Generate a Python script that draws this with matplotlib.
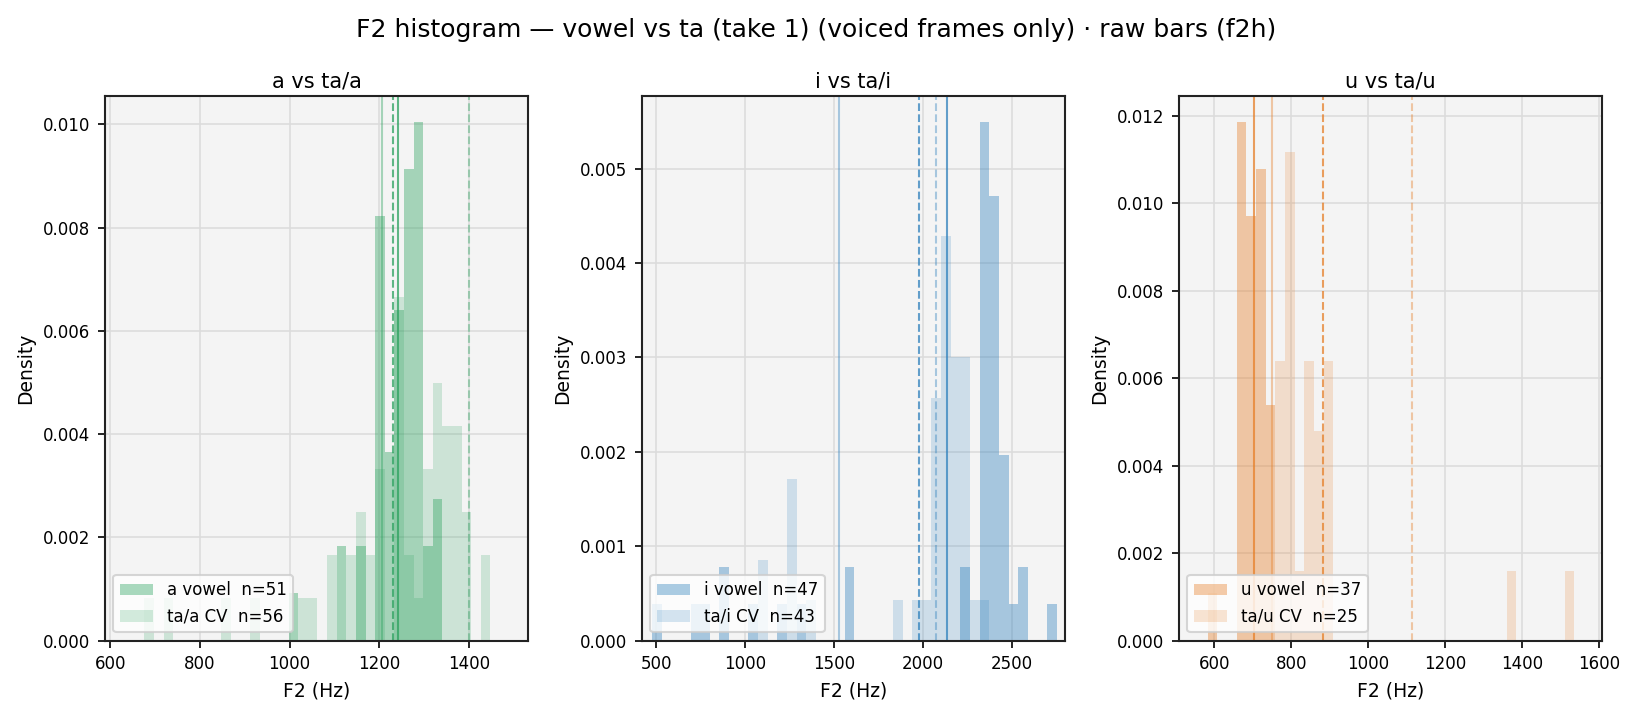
import numpy as np
import matplotlib
matplotlib.use("Agg")
import matplotlib.pyplot as plt

# BIN LAYOUT (first left edge, bin width) in Hz
a_bin_start, a_bin_width = 676.0, 21.46
i_bin_start, i_bin_width = 476.7, 54.19
u_bin_start, u_bin_width = 582.7, 25.06

# FRAME COUNTS PER BIN
a_vowel_counts = [0, 0, 0, 0, 0, 0, 0, 0, 0, 0, 0, 0, 0, 0, 0, 1, 0, 0, 0, 0,
                  2, 0, 2, 0, 9, 4, 7, 10, 11, 2, 3, 0, 0, 0, 0, 0]
a_cv_counts = [1, 0, 1, 0, 0, 0, 0, 0, 1, 0, 0, 1, 0, 0, 0, 0, 1, 1, 0, 2,
               0, 2, 3, 2, 4, 0, 8, 2, 1, 4, 6, 5, 5, 3, 0, 2]
i_vowel_counts = [1, 0, 0, 0, 1, 1, 0, 2, 0, 0, 1, 0, 0, 1, 0, 1, 0, 0, 0, 0,
                  2, 0, 0, 0, 0, 0, 0, 0, 0, 0, 0, 0, 2, 0, 14, 12, 5, 1, 2, 0,
                  0, 1]
i_cv_counts = [0, 0, 0, 0, 0, 0, 0, 0, 0, 0, 0, 2, 0, 0, 4, 0, 1, 0, 0, 0,
               0, 0, 0, 0, 0, 1, 0, 1, 1, 6, 10, 7, 7, 1, 1, 0, 0, 0, 0, 0,
               0, 0]
u_vowel_counts = [1, 0, 0, 11, 9, 10, 5, 0, 0, 0, 0, 0, 0, 0, 0, 0, 0, 0, 0, 0,
                  0, 0, 0, 0, 0, 0, 0, 0, 0, 0, 0, 0, 0, 0, 0, 0, 0, 0]
u_cv_counts = [0, 0, 0, 0, 0, 0, 0, 4, 7, 1, 4, 3, 4, 0, 0, 0, 0, 0, 0, 0,
               0, 0, 0, 0, 0, 0, 0, 0, 0, 0, 0, 1, 0, 0, 0, 0, 0, 1]

# total frames per set
a_n = (51, 56)
i_n = (47, 43)
u_n = (37, 25)

# reference lines (solid, dashed) in Hz
a_vowel_lines, a_cv_lines = (1241, 1232), (1207, 1400)
i_vowel_lines, i_cv_lines = (2137, 1979), (1530, 2075)
u_vowel_lines, u_cv_lines = (702, 881), (749, 1112)

panels = [
    ("a", "#2ca25f", a_bin_start, a_bin_width, a_vowel_counts, a_cv_counts, a_n,
     a_vowel_lines, a_cv_lines, (588, 1532)),
    ("i", "#3182bd", i_bin_start, i_bin_width, i_vowel_counts, i_cv_counts, i_n,
     i_vowel_lines, i_cv_lines, (421, 2799)),
    ("u", "#e6802a", u_bin_start, u_bin_width, u_vowel_counts, u_cv_counts, u_n,
     u_vowel_lines, u_cv_lines, (508, 1607)),
]

fig, axes = plt.subplots(1, 3, figsize=(1633 / 150, 715 / 150), dpi=150)
fig.subplots_adjust(left=0.0643, right=0.981, bottom=0.104, top=0.866, wspace=0.27)

for ax, (v, col, start, w, vc, cc, n, vl, cl, xl) in zip(axes, panels):
    vc = np.array(vc, dtype=float)
    cc = np.array(cc, dtype=float)
    edges = start + w * np.arange(len(vc) + 1)
    ax.set_facecolor("#f4f4f4")
    ax.grid(True, color="#dcdcdc", lw=0.8)
    ax.set_axisbelow(True)
    ax.hist(edges[:-1], bins=edges, weights=vc / (n[0] * w), color=col, alpha=0.4,
            label=f"{v} vowel  n={n[0]}")
    ax.hist(edges[:-1], bins=edges, weights=cc / (n[1] * w), color=col, alpha=0.2,
            label=f"ta/{v} CV  n={n[1]}")
    ax.axvline(vl[0], color=col, alpha=0.75, lw=1.0)
    ax.axvline(vl[1], color=col, alpha=0.75, lw=1.0, ls="--")
    ax.axvline(cl[0], color=col, alpha=0.4, lw=1.0)
    ax.axvline(cl[1], color=col, alpha=0.4, lw=1.0, ls="--")
    ax.set_xlim(*xl)
    ax.set_title(f"{v} vs ta/{v}", fontsize=10, pad=4)
    ax.set_xlabel("F2 (Hz)", fontsize=9)
    ax.set_ylabel("Density", fontsize=9)
    ax.tick_params(labelsize=8)
    for s in ax.spines.values():
        s.set_linewidth(1.0)
        s.set_color("#222222")
    ax.legend(loc="lower left", fontsize=8, framealpha=0.8, edgecolor="#cccccc")

fig.suptitle("F2 histogram \u2014 vowel vs ta (take 1) (voiced frames only) \u00b7 raw bars (f2h)",
             fontsize=12, y=0.975)
fig.savefig("out.png", dpi=150)
